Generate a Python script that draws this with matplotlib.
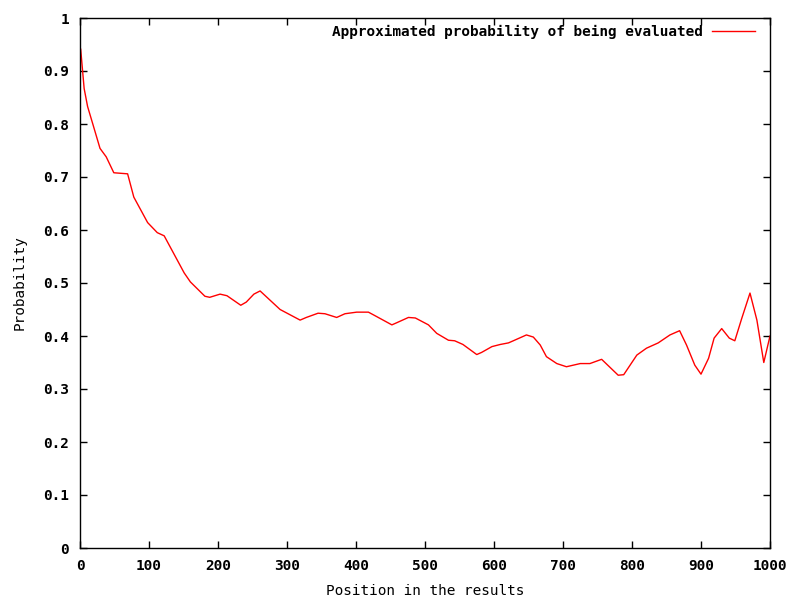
import matplotlib.pyplot as plt

# values
position = [1, 6, 11, 19, 29, 38, 49, 69, 78, 98, 112, 122, 151, 160, 181, 188,
            203, 213, 233, 241, 252, 261, 290, 319, 328, 345, 355, 372, 384, 401,
            418, 428, 452, 459, 476, 486, 505, 517, 534, 543, 555, 575, 582, 597,
            609, 621, 628, 647, 657, 667, 676, 691, 705, 725, 739, 756, 780, 788,
            807, 821, 838, 855, 869, 879, 891, 900, 911, 919, 930, 941, 949, 959,
            971, 981, 991, 1000]
probability = [0.941, 0.867, 0.833, 0.798, 0.754, 0.738, 0.708, 0.706, 0.662, 0.614,
               0.595, 0.589, 0.519, 0.502, 0.475, 0.473, 0.479, 0.476, 0.458, 0.464,
               0.479, 0.485, 0.450, 0.430, 0.435, 0.443, 0.442, 0.435, 0.442, 0.445,
               0.445, 0.438, 0.421, 0.425, 0.435, 0.434, 0.421, 0.405, 0.392, 0.391,
               0.384, 0.365, 0.369, 0.380, 0.384, 0.387, 0.391, 0.402, 0.398, 0.383,
               0.361, 0.348, 0.342, 0.348, 0.348, 0.356, 0.326, 0.327, 0.364, 0.377,
               0.387, 0.402, 0.410, 0.383, 0.345, 0.328, 0.358, 0.396, 0.414, 0.396,
               0.391, 0.433, 0.481, 0.430, 0.350, 0.400]

xticks = list(range(0, 1001, 100))
yticks = [0, 0.1, 0.2, 0.3, 0.4, 0.5, 0.6, 0.7, 0.8, 0.9, 1]
ylabels = ["0", "0.1", "0.2", "0.3", "0.4", "0.5", "0.6", "0.7", "0.8", "0.9", "1"]

plt.rcParams['font.family'] = 'DejaVu Sans Mono'
plt.rcParams['font.weight'] = 'bold'
plt.rcParams['font.size'] = 10.4

fig = plt.figure(figsize=(7.93, 5.97), dpi=100)
ax = fig.add_axes([80 / 793, 49 / 597, 690 / 793, 530 / 597])

ax.plot(position, probability, color='#ff0000', linewidth=1.0,
        label="Approximated probability of being evaluated")

ax.set_xlim(0, 1000)
ax.set_ylim(0, 1)
ax.set_xticks(xticks)
ax.set_yticks(yticks)
ax.set_yticklabels(ylabels)
ax.tick_params(direction='in', length=5, width=1, top=True, right=True, pad=8)
for s in ax.spines.values():
    s.set_linewidth(1)

ax.set_xlabel("Position in the results", labelpad=8)
ax.set_ylabel("Probability", labelpad=12)

leg = ax.legend(loc='upper right', frameon=False, markerfirst=False,
                handlelength=3.0, handletextpad=0.6, borderaxespad=0,
                bbox_to_anchor=(761 / 793, 1 - 19 / 597),
                bbox_transform=fig.transFigure)

fig.savefig("out.png", dpi=100)
